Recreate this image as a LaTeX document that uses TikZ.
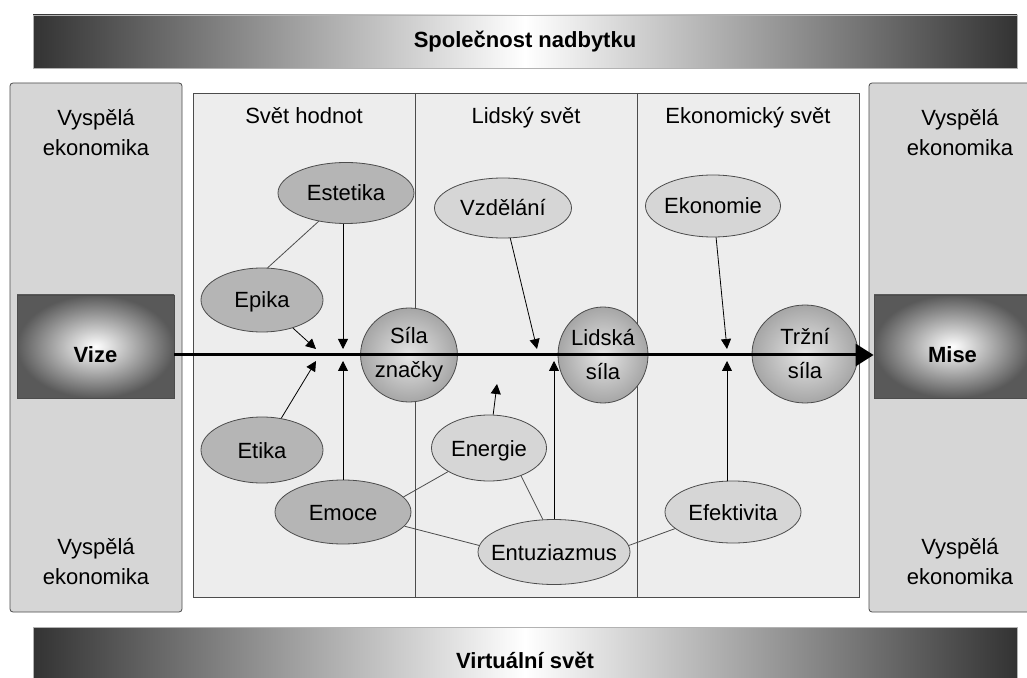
\documentclass[tikz,border=0pt]{standalone}
\usepackage{fontspec}
\setmainfont{Liberation Sans}
\usetikzlibrary{positioning,shapes.geometric,arrows.meta}
\definecolor{tmava}{gray}{0.71}
\definecolor{svetla}{gray}{0.84}
\definecolor{panelb}{gray}{0.84}
\definecolor{stredb}{gray}{0.93}
\definecolor{okraj}{gray}{0.30}
\tikzset{
    pruh/.style={
    rectangle,draw=gray!60,left color=black!80,right color=black!80,middle color=white,
    minimum width=492pt,minimum height=26.5pt,font=\fontsize{11}{13}\selectfont\bfseries
    },
    panel/.style={
    rectangle,rounded corners=1.5pt,draw=okraj,fill=panelb,minimum width=86pt,minimum height=264.5pt
    },
    svet/.style={
    rectangle,draw=okraj,fill=stredb,minimum width=333pt,minimum height=252pt
    },
    txt/.style={align=center,inner sep=0pt,font=\fontsize{11}{15}\selectfont},
    hlav/.style={inner sep=0pt,text height=8pt,text depth=2.5pt,font=\fontsize{11}{13}\selectfont},
    cil/.style={rectangle,draw=okraj,inner color=white,outer color=black!65,
    minimum width=78.5pt,minimum height=51.5pt,text height=16.5pt,text depth=0pt,
    font=\fontsize{11}{13}\selectfont\bfseries},
    sila/.style={ellipse,draw=okraj,inner color=gray!20,outer color=gray!70,inner sep=0pt,
    align=center,font=\fontsize{11}{17}\selectfont},
    hodn/.style={ellipse,draw=okraj,fill=tmava,inner xsep=-5pt,inner ysep=0pt,
    text height=8pt,text depth=0pt,font=\fontsize{11}{13}\selectfont},
    lids/.style={ellipse,draw=okraj,fill=svetla,inner xsep=-5pt,inner ysep=0pt,
    text height=8pt,text depth=0pt,font=\fontsize{11}{13}\selectfont},
  sip/.style={draw=black,thin,-{Triangle[length=5pt,width=5pt]}},
  spoj/.style={draw=okraj,thin},
  hlavni/.style={draw=black,line width=1.5pt,-{Triangle[length=9pt,width=11pt]}}
}
\begin{document}
\begin{tikzpicture}[x=0.5pt,y=-0.5pt]
    \useasboundingbox (0,0) rectangle (1027,678);
    \clip (0,0) rectangle (1027,678);
    \fill[white] (0,0) rectangle (1027,678);

    % bars
    \node[pruh] (spol) at (525,41.5) {Společnost nadbytku};
    \node[pruh,minimum height=33pt] (virt) at (525,660) {Virtuální svět};

    % side panels
    \node[panel] (levy) at (96,347.5) {};
    \node[panel,minimum width=83pt] (pravy) at (952,347.5) {};
    \node[txt] (levyh) at (96,133) {Vyspělá\\ekonomika};
    \node[txt] (levyd) at (96,562) {Vyspělá\\ekonomika};
    \node[txt] (pravyh) at (960,133) {Vyspělá\\ekonomika};
    \node[txt] (pravyd) at (960,562) {Vyspělá\\ekonomika};

    % the three worlds
    \node[svet] (stred) at (526,345) {};
    \draw[okraj] (415,93) -- (415,597);
    \draw[okraj] (637,93) -- (637,597);
    \node[hlav] (hodnoty) at (304,118) {Svět hodnot};
    \node[hlav,right of=hodnoty,node distance=111pt] (lidsky) {Lidský svět};
    \node[hlav,right of=lidsky,node distance=111pt] (ekonom) {Ekonomický svět};

    \node[cil] (vize) at (95.5,346.5) {Vize};
    \node[cil] (mise) at (952.5,346.5) {Mise};

    \node[sila,minimum width=47pt,minimum height=47pt] (znacka) at (409,355) {Síla\\značky};
    \node[sila,minimum width=45pt,minimum height=48pt] (lidska) at (603,355) {Lidská\\síla};
    \node[sila,minimum width=53pt,minimum height=49pt] (trzni) at (805,354) {Tržní\\síla};

    \node[hodn,minimum width=68pt,minimum height=30.5pt] (estetika) at (346,193) {Estetika};
    \node[hodn,minimum width=61pt,minimum height=32pt] (epika) at (262,300) {Epika};
    \node[hodn,minimum width=61pt,minimum height=33pt] (etika) at (262,450) {Etika};
    \node[hodn,minimum width=68pt,minimum height=32pt] (emoce) at (343,512) {Emoce};
    \node[lids,minimum width=68.5pt,minimum height=30pt] (vzdelani) at (503,208) {Vzdělání};
    \node[lids,minimum width=57.5pt,minimum height=33pt] (energie) at (489,448) {Energie};
    \node[lids,minimum width=76pt,minimum height=32.5pt] (entuz) at (554,552) {Entuziazmus};
    \node[lids,minimum width=67.5pt,minimum height=31pt] (ekonomie) at (713,206) {Ekonomie};
    \node[lids,minimum width=68pt,minimum height=31pt] (efekt) at (733,512) {Efektivita};

    % arrow tips at the axis
    \coordinate (epT) at (316,349);
    \coordinate (etT) at (316,361);
    \coordinate (esT) at (343,349);
    \coordinate (emT) at (343,361);
    \coordinate (vzT) at (537,349);
    \coordinate (enT) at (497,384);
    \coordinate (ntT) at (554,361);
    \coordinate (ekT) at (727,349);
    \coordinate (efT) at (727,361);

    \begin{scope}[every path/.style=sip]
      \path (epika) -- (epT);
      \path (etika) -- (etT);
      \path (esT |- estetika.south) -- (esT);
      \path (emT |- emoce.north) -- (emT);
      \path (vzdelani) -- (vzT);
      \path (energie) -- (enT);
      \path (ntT |- entuz.north) -- (ntT);
      \path (ekonomie) -- (ekT);
      \path (efT |- efekt.north) -- (efT);
    \end{scope}

    \begin{scope}[every path/.style=spoj]
      \path (estetika.226) -- (epika.80);
      \path (emoce.14) -- (energie.210);
      \path (energie.319) -- (entuz.109);
      \path (emoce.347) -- (entuz.175);
      \path (entuz.5) -- (efekt.196);
    \end{scope}

    \path[hlavni] ([yshift=-4.25pt]vize.east) -- ([yshift=-4.25pt]mise.west);
\end{tikzpicture}
\end{document}
